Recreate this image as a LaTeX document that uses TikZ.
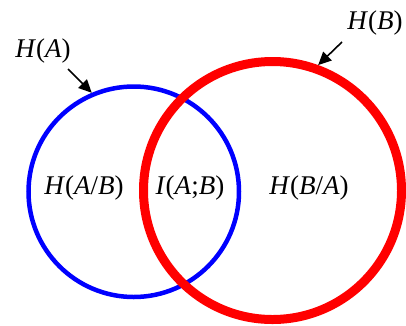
\documentclass[tikz,border=0pt]{standalone}
\usepackage{fontspec}
\setmainfont{Liberation Serif}
\usetikzlibrary{arrows.meta}
\begin{document}
\begin{tikzpicture}[x=1pt,y=-1pt,
  lbl/.style={inner sep=0pt, font=\fontsize{27}{30}\selectfont},
  setA/.style={circle, draw=blue, line width=4.5pt, minimum size=210.5pt, inner sep=0pt},
  setB/.style={circle, draw=red, line width=9pt, minimum size=258pt, inner sep=0pt},
  pointer/.style={line width=1.6pt, -{Triangle[length=13pt,width=12pt]}}]
\useasboundingbox (0,0) rectangle (406,325);
% the two entropy sets
\node[setA] (circA) at (133.75,191.75) {};
\node[setB] (circB) at (272.5,190.5) {};
% region labels
\node[lbl] (hab) at (84,188) {\textit{H}(\textit{A}/\textit{B})};
\node[lbl] (iab) at (190,188) {\textit{I}(\textit{A};\textit{B})};
\node[lbl] (hba) at (309,188) {\textit{H}(\textit{B}/\textit{A})};
% set names with pointers
\node[lbl] (ha) at (43,51) {\textit{H}(\textit{A})};
\node[lbl] (hb) at (375,23) {\textit{H}(\textit{B})};
\coordinate (ta) at (68,69);
\coordinate (tb) at (342,42);
\draw[pointer] (ta) -- (circA.113);
\draw[pointer] (tb) -- (circB.70);
\end{tikzpicture}
\end{document}
